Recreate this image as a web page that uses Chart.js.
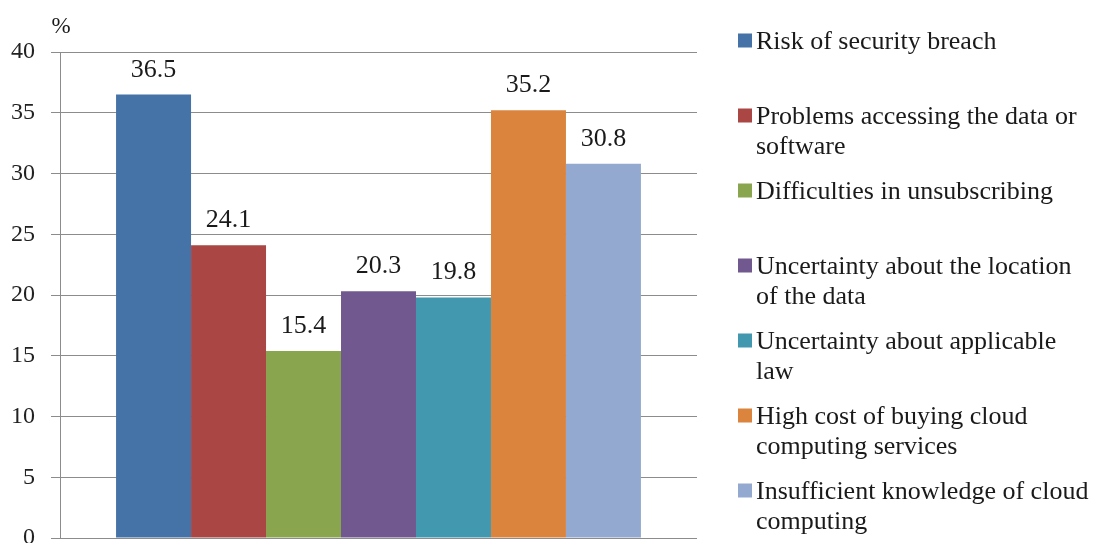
<!DOCTYPE html>
<html>
<head>
<meta charset="utf-8">
<script src="https://cdn.jsdelivr.net/npm/chart.js@4/dist/chart.umd.min.js"></script>
<style>
  html, body { margin: 0; padding: 0; background: #fff; overflow: hidden; }
  #risk-chart { display: block; }
</style>
</head>
<body>
<canvas id="risk-chart" width="1102" height="543"></canvas>
<script>
// survey results, % of respondents
const categories = [''];
const seriesNames = [
  ['Risk of security breach'],
  ['Problems accessing the data or', 'software'],
  ['Difficulties in unsubscribing'],
  ['Uncertainty about the location', 'of the data'],
  ['Uncertainty about applicable', 'law'],
  ['High cost of buying cloud', 'computing services'],
  ['Insufficient knowledge of cloud', 'computing']
];
const seriesValues = [36.5, 24.1, 15.4, 20.3, 19.8, 35.2, 30.8];
const seriesColors = ['#4572A7', '#AA4643', '#89A54E', '#71588F', '#4198AF', '#DB843D', '#93A9CF'];
const yTicks = [0, 5, 10, 15, 20, 25, 30, 35, 40];

const serif = '"Liberation Serif", "Times New Roman", serif';

// value above each bar, legend on the right, "%" over the axis
const labelsPlugin = {
  id: 'labels',
  afterDatasetsDraw(chart) {
    const ctx = chart.ctx;
    ctx.save();
    ctx.fillStyle = '#1a1a1a';
    ctx.font = '26px ' + serif;
    ctx.textAlign = 'center';
    ctx.textBaseline = 'alphabetic';
    chart.data.datasets.forEach((ds, i) => {
      const bar = chart.getDatasetMeta(i).data[0];
      ctx.fillText(ds.data[0].toFixed(1), bar.x, bar.y - 18);
    });

    // "%" unit
    ctx.font = '23px ' + serif;
    ctx.textBaseline = 'middle';
    ctx.fillText('%', chart.chartArea.left + 1, 27);

    // legend
    ctx.textAlign = 'left';
    ctx.textBaseline = 'alphabetic';
    ctx.font = '26px ' + serif;
    chart.data.datasets.forEach((ds, i) => {
      const base = 48.5 + i * 75;
      ctx.fillStyle = ds.backgroundColor;
      ctx.fillRect(738, base - 15, 14, 14);
      ctx.fillStyle = '#1a1a1a';
      seriesNames[i].forEach((line, j) => {
        ctx.fillText(line, 756, base + j * 30.5);
      });
    });
    ctx.restore();
  }
};

const riskCanvas = document.getElementById('risk-chart');

const riskData = {
  labels: categories,
  datasets: seriesNames.map((name, i) => ({
    label: name.join(' '),
    data: [seriesValues[i]],
    backgroundColor: seriesColors[i],
    borderWidth: 0,
    categoryPercentage: 0.824,
    barPercentage: 1
  }))
};

const riskOptions = {
  responsive: false,
  animation: { duration: 0 },
  layout: {
    padding: { left: 11, right: 405, top: 52, bottom: 5 }
  },
  scales: {
    x: { display: false },
    y: {
      min: 0,
      max: 40,
      afterBuildTicks: scale => {
        scale.ticks = yTicks.map(v => ({ value: v }));
      },
      afterFit: scale => {
        // let the "0" label run off the bottom edge
        scale.width = 49;
        scale.paddingTop = 0;
        scale.paddingBottom = 0;
      },
      ticks: {
        color: '#222',
        padding: 16,
        font: { family: serif, size: 24 }
      },
      grid: {
        color: '#8c8c8c',
        lineWidth: 1,
        tickLength: 9
      },
      border: { color: '#8c8c8c', width: 1 }
    }
  },
  plugins: {
    legend: { display: false },
    tooltip: { enabled: false }
  }
};

let riskChart = new Chart(riskCanvas, {
  type: 'bar',
  data: riskData,
  options: riskOptions,
  plugins: [labelsPlugin]
});
</script>
</body>
</html>
